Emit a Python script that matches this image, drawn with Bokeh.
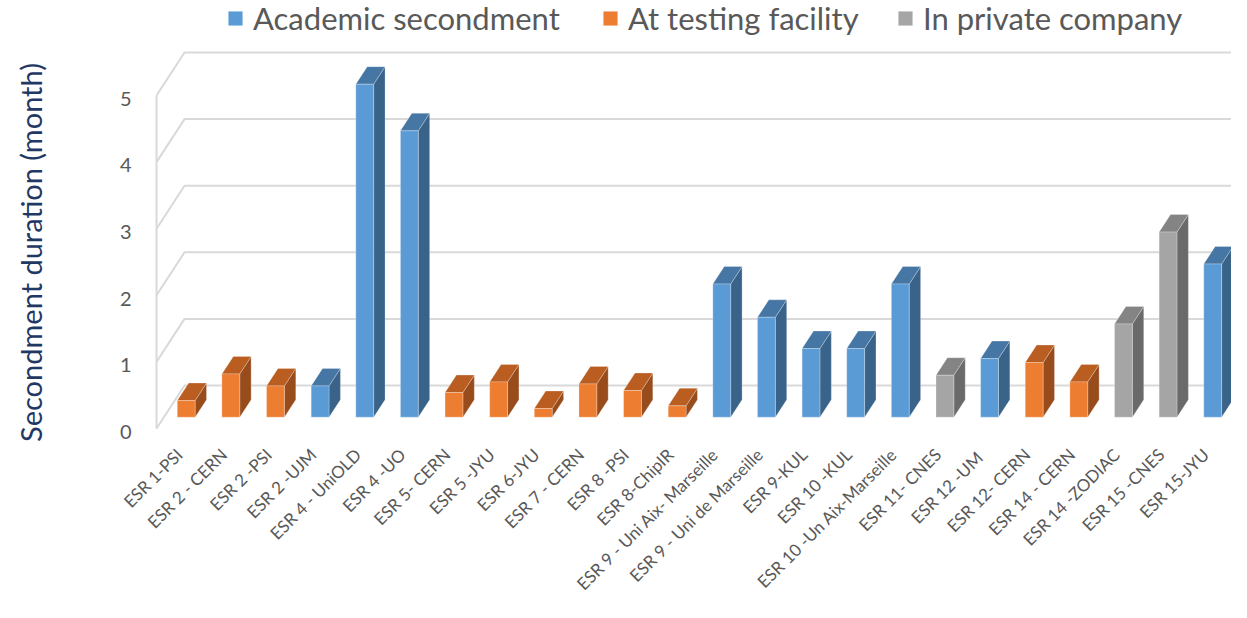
from math import pi
from bokeh.plotting import figure
from bokeh.models import Range1d, Legend, LegendItem
from bokeh.core.properties import value
from bokeh.embed import file_html
from bokeh.resources import INLINE

# ---------------- data ----------------
labels = ["ESR 1-PSI", "ESR 2 - CERN", "ESR 2 -PSI", "ESR 2 -UJM", "ESR 4 - UniOLD",
          "ESR 4 -UO", "ESR 5- CERN", "ESR 5 -JYU", "ESR 6-JYU", "ESR 7 - CERN",
          "ESR 8 -PSI", "ESR 8-ChipIR", "ESR 9 - Uni Aix- Marseille",
          "ESR 9 - Uni de Marseille", "ESR 9-KUL", "ESR 10 -KUL",
          "ESR 10 -Un Aix-Marseille", "ESR 11- CNES", "ESR 12  -UM", "ESR 12- CERN",
          "ESR 14 - CERN", "ESR 14 -ZODIAC", "ESR 15 -CNES", "ESR 15-JYU"]
values = [0.25, 0.65, 0.47, 0.47, 5.0,
          4.3, 0.37, 0.53, 0.13, 0.5,
          0.4, 0.17, 2.0,
          1.5, 1.03, 1.03,
          2.0, 0.63, 0.88, 0.82,
          0.53, 1.4, 2.78, 2.3]
# 0 = Academic secondment, 1 = At testing facility, 2 = In private company
groups = [1, 1, 1, 0, 0,
          0, 1, 1, 1, 1,
          1, 1, 0,
          0, 0, 0,
          0, 2, 0, 1,
          1, 2, 2, 0]
series = ["Academic secondment", "At testing facility", "In private company"]
y_ticks = [0, 1, 2, 3, 4, 5]
y_tick_labels = ["0", "1", "2", "3", "4", "5"]
y_title = "Secondment duration (month)"

# ---------------- style / layout ----------------
front_col = ["#5B9BD5", "#ED7D31", "#A5A5A5"]
top_col = ["#4676A4", "#B95D21", "#848484"]
side_col = ["#396389", "#984C1C", "#6A6A6A"]
FONT = "Lato"
GRID = "#D9D9D9"
TXT = "#595959"
TITLE_COL = "#1F3864"

W_FIG, H_FIG = 1231, 602
X_PX = 44.63            # px per category slot
Y_PX = 66.6             # px per month
X0_PX = 185.7           # px position of first bar (front face centre)
Y0_PX = 428.0           # px position of value 0 on front plane
X_START = -X0_PX / X_PX
X_END = X_START + W_FIG / X_PX
Y_START = -(H_FIG - Y0_PX) / Y_PX
Y_END = Y_START + H_FIG / Y_PX

# oblique depth (full floor depth) in data units
DX = 28 / X_PX
DY = 43 / Y_PX
DF, DB = 0.263, 0.67     # bar front / back depth fractions
BW = 0.40                # bar width in slots

p = figure(width=W_FIG, height=H_FIG, output_backend="svg", toolbar_location=None,
           x_range=Range1d(X_START, X_END), y_range=Range1d(Y_START, Y_END),
           x_axis_location=None, y_axis_location=None, min_border=0)
p.outline_line_color = None
p.xgrid.visible = False
p.ygrid.visible = False
p.background_fill_color = "white"
p.border_fill_color = "white"

# ---------------- walls / gridlines ----------------
XW = -0.5 - DF * DX
gx, gy = [], []
for k in y_ticks:
    gx.append([XW, XW + DX, X_END + 1])
    gy.append([k, k + DY, k + DY])
gx.append([XW, XW])
gy.append([y_ticks[0], y_ticks[-1]])
p.multi_line(gx, gy, line_color=GRID, line_width=2)

# ---------------- 3D bars ----------------
yf = DF * DY
bdx = (DB - DF) * DX
bdy = (DB - DF) * DY
faces = {g: {"front": ([], []), "side": ([], []), "top": ([], [])} for g in range(3)}
for i, (v, g) in enumerate(zip(values, groups)):
    l, r = i - BW / 2, i + BW / 2
    b, t = yf, yf + v
    faces[g]["front"][0].append([l, r, r, l])
    faces[g]["front"][1].append([b, b, t, t])
    faces[g]["side"][0].append([r, r + bdx, r + bdx, r])
    faces[g]["side"][1].append([b, b + bdy, t + bdy, t])
    faces[g]["top"][0].append([l, r, r + bdx, l + bdx])
    faces[g]["top"][1].append([t, t, t + bdy, t + bdy])

front_r = {}
for g in range(3):
    p.patches(*faces[g]["side"], fill_color=side_col[g], line_color="white", line_alpha=0.25, line_width=1)
    p.patches(*faces[g]["top"], fill_color=top_col[g], line_color="white", line_alpha=0.25, line_width=1)
    front_r[g] = p.patches(*faces[g]["front"], fill_color=front_col[g], line_color="white",
                           line_alpha=0.25, line_width=1)

# ---------------- value-axis tick labels ----------------
YLAB_GAP = 25 / X_PX
YLAB_DY = -0.05
p.text(x=[XW - YLAB_GAP] * len(y_ticks), y=[k + YLAB_DY for k in y_ticks], text=y_tick_labels,
       text_align="right", text_baseline="middle", text_font=value(FONT),
       text_font_size=value("20px"), text_color=TXT)

# ---------------- category labels ----------------
CLAB_DX = -7 / X_PX
CLAB_Y = -23 / Y_PX
p.text(x=[i + CLAB_DX for i in range(len(labels))], y=[CLAB_Y] * len(labels), text=labels,
       angle=pi / 4, text_align="right", text_baseline="middle", text_font=value(FONT),
       text_font_size=value("17px"), text_color=TXT)

# ---------------- value-axis title ----------------
TITLE_X = X_START + 30 / X_PX
TITLE_Y = (Y0_PX - 252) / Y_PX
p.text(x=[TITLE_X], y=[TITLE_Y], text=[y_title], angle=pi / 2, text_align="center",
       text_baseline="middle", text_font=value(FONT), text_font_size=value("29px"),
       text_color=TITLE_COL)

# ---------------- legend ----------------
LEG_X = [226, 601, 896]
LEG_Y = 565
for g in range(3):
    lg = Legend(items=[LegendItem(label=series[g], renderers=[front_r[g]])],
                location=(LEG_X[g], LEG_Y), orientation="horizontal",
                padding=0, margin=0, border_line_color=None, background_fill_alpha=0,
                glyph_width=18, glyph_height=18, label_standoff=9,
                label_text_font=FONT, label_text_font_size="31px", label_text_color=TXT)
    p.add_layout(lg)

open("out.html", "w").write(file_html(p, INLINE))
